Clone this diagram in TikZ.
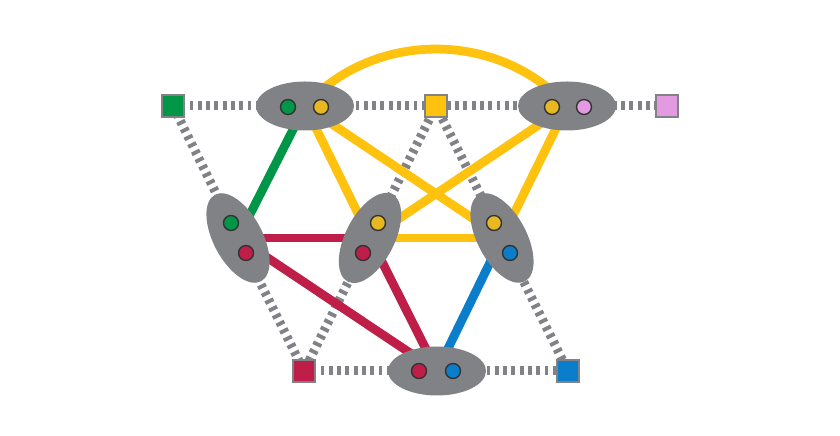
\documentclass[tikz,border=0pt]{standalone}
\usepackage{tikz}
\usetikzlibrary{shapes.geometric}
\usetikzlibrary{backgrounds}

\definecolor{hubgray}{RGB}{128,130,133}
\definecolor{cgreen}{RGB}{0,150,72}
\definecolor{cyellow}{RGB}{255,194,14}
\definecolor{dyellow}{RGB}{232,184,35}
\definecolor{cred}{RGB}{190,30,71}
\definecolor{cblue}{RGB}{10,125,203}
\definecolor{cpink}{RGB}{227,154,225}

\begin{document}
\begin{tikzpicture}[
		hub/.style={ellipse, fill=hubgray, minimum width=0.98cm, minimum height=0.49cm, inner sep=0pt},
		term/.style={rectangle, draw=hubgray, line width=0.6pt, minimum size=0.22cm, inner sep=0pt},
		pin/.style={circle, draw=black!80, line width=0.4pt, minimum size=0.15cm, inner sep=0pt},
		link/.style={hubgray, line width=0.09cm, dash pattern=on 0.038cm off 0.045cm},
		wire/.style={line width=0.088cm}]
		\useasboundingbox (0,0) rectangle (8.4,4.36);

		% Terminals
		\node[term, fill=cgreen]  (tg) at (1.73,3.30) {};
		\node[term, fill=cyellow] (ty) at (4.36,3.30) {};
		\node[term, fill=cpink]   (tp) at (6.67,3.30) {};
		\node[term, fill=cred]    (tr) at (3.04,0.65) {};
		\node[term, fill=cblue]   (tb) at (5.68,0.65) {};

		% Hubs
		\node[hub] (h1) at (3.05,3.30) {};
		\node[hub] (h2) at (5.67,3.30) {};
		\node[hub, rotate=-62] (h3) at (2.38,1.98) {};
		\node[hub, rotate=63]  (h4) at (3.70,1.98) {};
		\node[hub, rotate=-62] (h5) at (5.02,1.98) {};
		\node[hub] (h6) at (4.37,0.65) {};

		% Pins inside the hubs
		\node[pin, fill=cgreen]  (h1a) at (2.88,3.29) {};
		\node[pin, fill=dyellow] (h1b) at (3.21,3.29) {};
		\node[pin, fill=dyellow] (h2a) at (5.52,3.29) {};
		\node[pin, fill=cpink]   (h2b) at (5.84,3.29) {};
		\node[pin, fill=cgreen]  (h3a) at (2.31,2.13) {};
		\node[pin, fill=cred]    (h3b) at (2.46,1.83) {};
		\node[pin, fill=dyellow] (h4a) at (3.78,2.13) {};
		\node[pin, fill=cred]    (h4b) at (3.63,1.83) {};
		\node[pin, fill=dyellow] (h5a) at (4.94,2.13) {};
		\node[pin, fill=cblue]   (h5b) at (5.10,1.83) {};
		\node[pin, fill=cred]    (h6a) at (4.19,0.65) {};
		\node[pin, fill=cblue]   (h6b) at (4.53,0.65) {};

		\begin{scope}[on background layer]
			% Dotted links to the terminals
			\draw[link] (tg.center) -- (h1.center) -- (ty.center) -- (h2.center) -- (tp.center);
			\draw[link] (tr.center) -- (h6.center) -- (tb.center);
			\draw[link] (tg.center) -- (h3.center) -- (tr.center) -- (h4.center) -- (ty.center) -- (h5.center) -- (tb.center);

			% Coloured wires between hubs
			\draw[wire, cgreen] (h1.center) -- (h3.center);
			\draw[wire, cyellow] (h1.center) to[bend left=48] (h2.center);
			\draw[wire, cyellow] (h1.center) -- (h4.center);
			\draw[wire, cyellow] (h1.center) -- (h5.center);
			\draw[wire, cyellow] (h2.center) -- (h4.center);
			\draw[wire, cyellow] (h2.center) -- (h5.center);
			\draw[wire, cyellow] (h4.center) -- (h5.center);
			\draw[wire, cred] (h3.center) -- (h4.center);
			\draw[wire, cred] (h3.center) -- (h6.center);
			\draw[wire, cred] (h4.center) -- (h6.center);
			\draw[wire, cblue] (h5.center) -- (h6.center);
		\end{scope}
	\end{tikzpicture}
\end{document}
